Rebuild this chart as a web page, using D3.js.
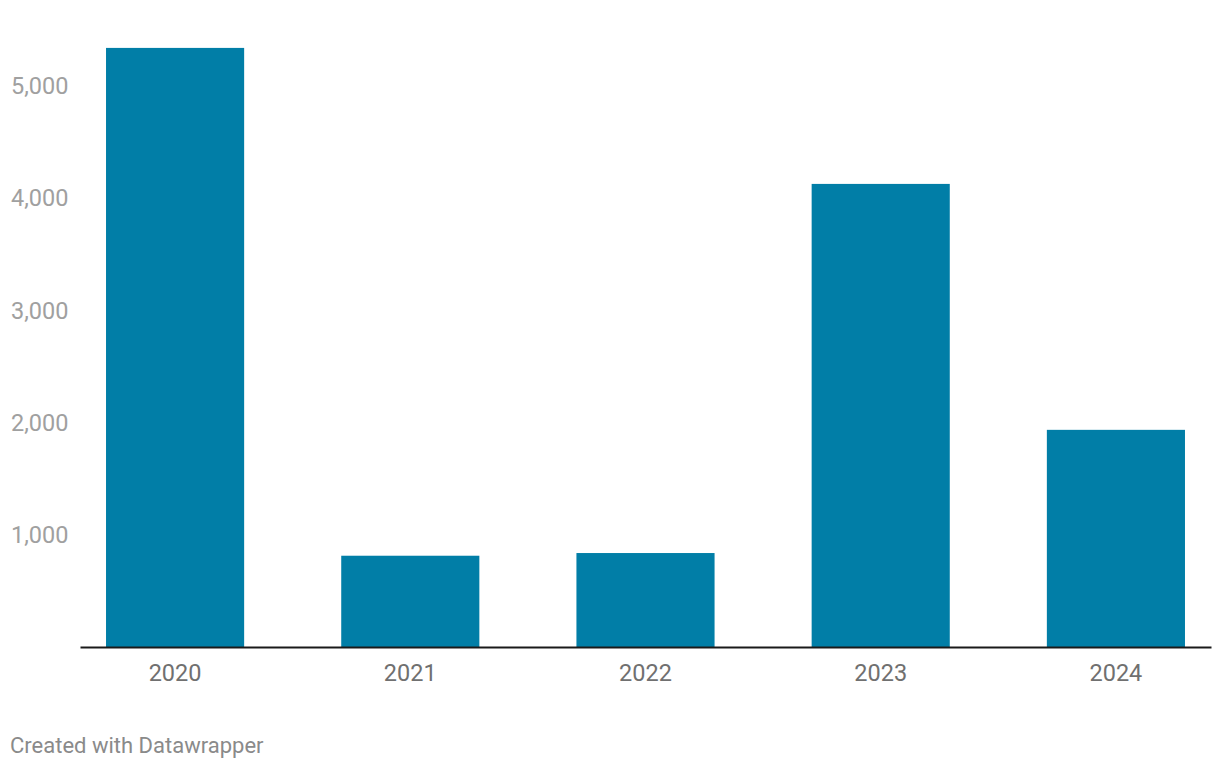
<!DOCTYPE html>
<html><head><meta charset="utf-8">
<script src="https://cdn.jsdelivr.net/npm/d3@7"></script>
<style>
html,body{margin:0;padding:0;background:#fff;}
text{font-family:Roboto, "Noto Sans", sans-serif;}
</style></head>
<body><svg id="c" width="1220" height="770"></svg>
<script>
const categories = ["2020","2021","2022","2023","2024"];
const values = [5330, 812, 836, 4120, 1932];
const yTicks = [1000, 2000, 3000, 4000, 5000];
const footer = "Created with Datawrapper";

const svg = d3.select("#c");
const x = d3.scaleBand().domain(categories).range([80,1211]).paddingInner(97/235).paddingOuter(26/235);
const y = d3.scaleLinear().domain([0,5000]).range([647,85]);

const yAxis = svg.append("g").attr("transform","translate(11,0)")
  .call(d3.axisRight(y).tickValues(yTicks).tickSize(0).tickFormat(d3.format(",")));
yAxis.select(".domain").remove();
yAxis.selectAll("text").attr("x",0).attr("dy","0.35em").attr("fill","#a0a0a0").style("font-size","23.5px").style("font-family","Roboto");

svg.append("g").selectAll("rect").data(values).join("rect")
  .attr("x",(d,i)=>x(categories[i])).attr("width",x.bandwidth())
  .attr("y",d=>y(d)).attr("height",d=>y(0)-y(d)).attr("fill","#017ea7");

const xAxis = svg.append("g").attr("transform",`translate(0,${y(0)})`)
  .call(d3.axisBottom(x).tickSize(0).tickPadding(17));
xAxis.select(".domain").attr("stroke","#1a1a1a").attr("stroke-width",2);
xAxis.selectAll("text").attr("fill","#707070").style("font-size","23.5px").style("font-family","Roboto");

svg.append("text").attr("x",10).attr("y",753).text(footer)
  .attr("fill","#8a8a8a").style("font-size","22px");
</script></body></html>
